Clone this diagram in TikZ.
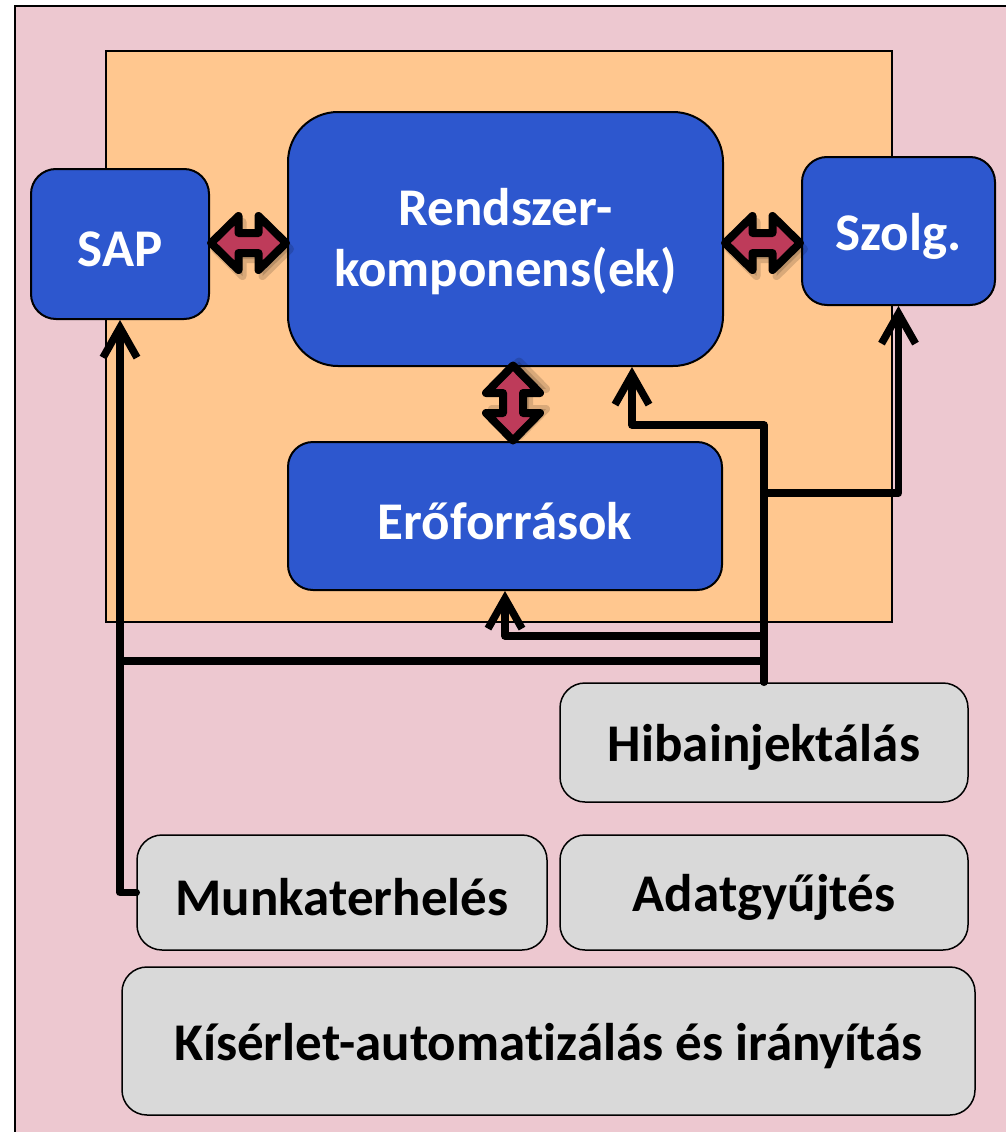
\documentclass[tikz,border=0pt]{standalone}
\usepackage{fontspec}
\setmainfont{Carlito}[Ligatures=NoCommon]
\usetikzlibrary{arrows.meta,calc}
\definecolor{pinkbg}{RGB}{237,200,208}
\definecolor{orangebg}{RGB}{255,199,143}
\definecolor{bluec}{RGB}{45,87,206}
\definecolor{grayc}{RGB}{217,217,217}
\definecolor{arrowc}{RGB}{190,59,90}
\newcommand\lowtxt[1]{\raisebox{-5pt}[\height][\depth]{#1}}
\begin{document}
\begin{tikzpicture}[x=1pt,y=-1pt,
  bluebox/.style={draw=black,line width=2pt,fill=bluec,rounded corners=25pt,text=white,
    font=\fontsize{53}{61}\selectfont\bfseries,align=center,inner sep=0pt},
  graybox/.style={draw=black,line width=1.5pt,fill=grayc,rounded corners=25pt,
    font=\fontsize{53}{61}\selectfont\bfseries,align=center,inner sep=0pt},
  conn/.style={line width=7.5pt,line cap=round,line join=round},
  arr/.style={conn,-{Straight Barb[length=30pt,width=34pt]}},
  dbl/.style={fill=arrowc,draw=black,line width=8pt,line join=round},
  dblshadow/.style={fill=black,draw=black,line width=8pt,line join=round,opacity=0.15},
  dblarrow/.pic={
    \path[dblshadow,shift={(4,6)}] (-37.5,0) -- (-10,-27) -- (-10,-10) -- (10,-10) -- (10,-27) -- (37.5,0) -- (10,27) -- (10,10) -- (-10,10) -- (-10,27) -- cycle;
    \path[dbl] (-37.5,0) -- (-10,-27) -- (-10,-10) -- (10,-10) -- (10,-27) -- (37.5,0) -- (10,27) -- (10,10) -- (-10,10) -- (-10,27) -- cycle;
  }]
\useasboundingbox (0,0) rectangle (1006,1132);
\clip (0,0) rectangle (1006,1132);
\fill[white] (0,0) rectangle (1006,1132);
% backgrounds
\draw[fill=pinkbg,line width=2pt] (15,6) rectangle (1020,1150);
\draw[fill=orangebg,line width=2pt] (106,51) rectangle (892,622);
% blue nodes
\node[bluebox,minimum width=178pt,minimum height=150pt] (sap) at (120,244) {\lowtxt{SAP}};
\node[bluebox,rounded corners=50pt,minimum width=435pt,minimum height=254pt] (rk) at (505.5,239) {\lowtxt{\begin{tabular}{@{}c@{}}Rendszer-\\komponens(ek)\end{tabular}}};
\node[bluebox,minimum width=193pt,minimum height=148pt] (szolg) at (898.5,231) {\lowtxt{Szolg.}};
\node[bluebox,minimum width=434pt,minimum height=148pt] (ero) at (505,516) {\lowtxt{Erőforrások}};
% gray nodes
\node[graybox,minimum width=408pt,minimum height=119pt] (hib) at (764,742.5) {\lowtxt{Hibainjektálás}};
\node[graybox,minimum width=410pt,minimum height=115pt] (munka) at (342,892.5) {\lowtxt{Munkaterhelés}};
\node[graybox,minimum width=408pt,minimum height=115pt] (adat) at (764,892.5) {\lowtxt{Adatgyűjtés}};
\node[graybox,minimum width=853pt,minimum height=148pt] (kis) at (548.5,1041) {\lowtxt{Kísérlet-automatizálás és irányítás}};
% double arrows
\pic at (248.5,243) {dblarrow};
\pic at (762.5,243) {dblarrow};
\pic[rotate=90] at (513,403) {dblarrow};
% connectors
\coordinate (j2) at (764,493);
\coordinate (j3) at (764,636);
\coordinate (j4) at (764,661);
\draw[arr] (hib.north) |- (632,425) -- (632,0 |- rk.south);
\draw[arr] (j2) -| (szolg.south);
\draw[arr] (j3) -| (ero.south);
\draw[arr] (j4) -| (sap.south);
\draw[conn] (munka.west) -| (j4 -| sap.south);
\end{tikzpicture}
\end{document}
